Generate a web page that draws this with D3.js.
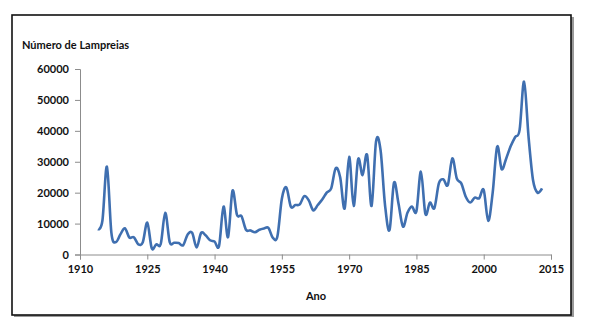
<!DOCTYPE html>
<html>
<head>
<meta charset="utf-8">
<script src="https://cdn.jsdelivr.net/npm/d3@7"></script>
<style>
  html, body { margin: 0; padding: 0; background: #fff; }
  svg { display: block; }
  .tick text { font-family: Lato, "Open Sans", sans-serif; font-weight: 700; font-size: 11px; fill: #111; }
</style>
</head>
<body>
<svg id="chart" width="592" height="327"></svg>
<script>
// Annual lamprey counts
const years = d3.range(1914, 2014);
const counts = [
  8200, 11000, 28400, 7000, 4000, 6500, 8500, 5500, 5600, 3300,      // 1914-1923
  4000, 10300, 2000, 3300, 3400, 13500, 4000, 3800, 3700, 3000,      // 1924-1933
  6500, 7000, 2300, 7000, 6200, 4600, 4200, 2800, 15500, 5600,       // 1934-1943
  20600, 12800, 12400, 8000, 7800, 7200, 8000, 8400, 8600, 5400,     // 1944-1953
  5800, 18000, 21700, 15500, 16000, 16200, 18900, 17500, 14300, 16000, // 1954-1963
  17800, 20000, 21400, 27900, 25000, 14900, 31600, 15700, 30800, 25700, // 1964-1973
  32200, 15700, 36600, 33800, 16000, 7900, 23200, 16500, 9000, 13500,  // 1974-1983
  15500, 14000, 26800, 13100, 16800, 15000, 23000, 24300, 22500, 31100, // 1984-1993
  24600, 23000, 18700, 16800, 18400, 18200, 20900, 10900, 20000, 34900, // 1994-2003
  27600, 31000, 35000, 38000, 40300, 55900, 38000, 24000, 20000, 21400  // 2004-2013
];
const xTicks = [1910, 1925, 1940, 1955, 1970, 1985, 2000, 2015];
const yTicks = [0, 10000, 20000, 30000, 40000, 50000, 60000];

const svg = d3.select("#chart");

// Outer frame with a soft drop shadow
svg.append("rect").attr("x", 14).attr("y", 17).attr("width", 560).attr("height", 300)
  .attr("fill", "#9a9a9a");
svg.append("rect").attr("x", 12).attr("y", 15).attr("width", 559).attr("height", 300)
  .attr("fill", "#fff").attr("stroke", "#111").attr("stroke-width", 1.6);

const x = d3.scaleLinear().domain([1910, 2015]).range([80, 551]);
const y = d3.scaleLinear().domain([0, 60000]).range([254.5, 69]);

const axisColor = "#8c8c8c";

const yAxis = svg.append("g").attr("transform", "translate(80,0)")
  .call(d3.axisLeft(y).tickValues(yTicks).tickSize(5).tickPadding(6).tickFormat(d3.format("d")));
const xAxis = svg.append("g").attr("transform", "translate(0,254.5)")
  .call(d3.axisBottom(x).tickValues(xTicks).tickSize(5).tickPadding(6).tickFormat(d3.format("d")));
[yAxis, xAxis].forEach(g => {
  g.select(".domain").attr("stroke", axisColor).attr("stroke-width", 1);
  g.selectAll(".tick line").attr("stroke", axisColor);
});

// Smoothed series line
const line = d3.line()
  .x((d, i) => x(years[i]))
  .y(d => y(d))
  .curve(d3.curveCardinal.tension(0));
svg.append("path").datum(counts)
  .attr("d", line)
  .attr("fill", "none")
  .attr("stroke", "#3f6fb0")
  .attr("stroke-width", 2.6)
  .attr("stroke-linejoin", "round");

// Axis titles
svg.append("text").attr("x", 22).attr("y", 49)
  .attr("font-family", "Lato, 'Open Sans', sans-serif").attr("font-weight", 700)
  .attr("font-size", 11).attr("fill", "#111")
  .text("Número de Lampreias");
svg.append("text").attr("x", 316).attr("y", 300).attr("text-anchor", "middle")
  .attr("font-family", "Lato, 'Open Sans', sans-serif").attr("font-weight", 700)
  .attr("font-size", 11).attr("fill", "#111")
  .text("Ano");
</script>
</body>
</html>
